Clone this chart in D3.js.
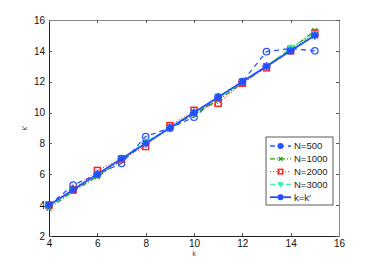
<!DOCTYPE html>
<html>
<head>
<meta charset="utf-8">
<script src="https://cdn.jsdelivr.net/npm/d3@7"></script>
<style>
  body { margin: 0; background: #fff; }
  svg { font-family: "Liberation Sans", Arial, sans-serif; }
  .axis path, .axis line { shape-rendering: crispEdges; }
</style>
</head>
<body>
<div id="chart"></div>
<script>
var kValues = [4, 5, 6, 7, 8, 9, 10, 11, 12, 13, 14, 15];
var n500 = [4.0, 5.3, 6.0, 6.7, 8.45, 9.0, 9.7, 11.0, 12.0, 13.95, 14.15, 14.0];
var n1000 = [3.8, 4.9, 5.85, 6.9, 8.0, 9.0, 9.9, 10.8, 11.9, 13.0, 14.1, 15.3];
var n2000 = [4.0, 5.0, 6.25, 7.0, 7.8, 9.15, 10.15, 10.6, 11.9, 12.9, 14.0, 15.15];
var n3000 = [3.9, 5.0, 6.0, 7.0, 8.1, 9.0, 10.0, 11.0, 12.0, 13.0, 14.2, 15.1];
var identity = [4, 5, 6, 7, 8, 9, 10, 11, 12, 13, 14, 15];
var xTicks = [4, 6, 8, 10, 12, 14, 16];
var yTicks = [2, 4, 6, 8, 10, 12, 14, 16];

var series = [
  { name: 'N=500', values: n500, color: '#2a55ff', dash: '5,4', marker: 'circle', width: 1.3 },
  { name: 'N=1000', values: n1000, color: '#2a9a10', dash: '5,2,1,2', marker: 'x', width: 1.3 },
  { name: 'N=2000', values: n2000, color: '#ff2020', dash: '1,2', marker: 'square', width: 1 },
  { name: 'N=3000', values: n3000, color: '#3ff0a8', dash: '5,3', marker: 'triangle', width: 1.3 },
  { name: "k=k'", values: identity, color: '#2050ff', dash: null, marker: 'star', width: 1.8 }
];

var margin = { top: 20, right: 35, bottom: 30, left: 49 },
  frame = { width: 374, height: 266 },
  width = 339 - margin.left,
  height = 236 - margin.top;

var x = d3.scaleLinear().domain([4, 16]).range([0, width]);
var y = d3.scaleLinear().domain([2, 16]).range([height, 0]);

var svg = d3.select('#chart').append('svg')
  .attr('width', frame.width)
  .attr('height', frame.height)
  .append('g')
  .attr('transform', 'translate(' + margin.left + ',' + margin.top + ')');

function styleAxis(g, color) {
  g.select('.domain').attr('stroke', color).attr('stroke-width', 1.2);
  g.selectAll('.tick line').attr('stroke', '#555');
  g.selectAll('.tick text').attr('fill', '#111').style('font-size', '10px');
}

// bottom / left axes with labels, inward ticks
svg.append('g')
  .attr('class', 'axis')
  .attr('transform', 'translate(0,' + height + ')')
  .call(d3.axisBottom(x).tickValues(xTicks).tickSize(-3).tickPadding(4).tickSizeOuter(0))
  .call(function (g) { styleAxis(g, '#222'); });

svg.append('g')
  .attr('class', 'axis')
  .call(d3.axisLeft(y).tickValues(yTicks).tickSize(-3).tickPadding(4).tickSizeOuter(0))
  .call(function (g) { styleAxis(g, '#222'); });

// top / right axes without labels
svg.append('g')
  .attr('class', 'axis')
  .call(d3.axisTop(x).tickValues(xTicks).tickSize(-3).tickFormat('').tickSizeOuter(0))
  .call(function (g) { styleAxis(g, '#888'); });

svg.append('g')
  .attr('class', 'axis')
  .attr('transform', 'translate(' + width + ',0)')
  .call(d3.axisRight(y).tickValues(yTicks).tickSize(-3).tickFormat('').tickSizeOuter(0))
  .call(function (g) { styleAxis(g, '#888'); });

// axis titles
svg.append('text')
  .attr('x', x(10))
  .attr('y', height + 20)
  .attr('text-anchor', 'middle')
  .style('font-size', '6.5px')
  .attr('fill', '#333')
  .text('k');

svg.append('text')
  .attr('transform', 'translate(-22,' + y(9) + ') rotate(-90)')
  .attr('text-anchor', 'middle')
  .style('font-size', '6.5px')
  .attr('fill', '#333')
  .text("k'");

function drawMarker(g, type, color, cx, cy, s) {
  s = s || 1;
  if (type === 'circle') {
    g.append('circle').attr('cx', cx).attr('cy', cy).attr('r', 3.2 * s)
      .attr('fill', s < 1 ? color : 'none').attr('stroke', color).attr('stroke-width', 1.3);
  } else if (type === 'x') {
    var a = 2.5 * s;
    g.append('path')
      .attr('d', 'M' + (cx - a) + ',' + (cy - a) + 'L' + (cx + a) + ',' + (cy + a) +
        'M' + (cx - a) + ',' + (cy + a) + 'L' + (cx + a) + ',' + (cy - a))
      .attr('stroke', color).attr('stroke-width', 1.3);
  } else if (type === 'square') {
    var h = 3 * s;
    g.append('rect').attr('x', cx - h).attr('y', cy - h).attr('width', 2 * h).attr('height', 2 * h)
      .attr('fill', 'none').attr('stroke', color).attr('stroke-width', 1.5);
  } else if (type === 'triangle') {
    var t = 3.5 * s;
    g.append('path')
      .attr('d', 'M' + (cx - t) + ',' + (cy - t * 0.7) + 'L' + (cx + t) + ',' + (cy - t * 0.7) +
        'L' + cx + ',' + (cy + t) + 'Z')
      .attr('fill', color).attr('stroke', color).attr('stroke-width', 0.8);
  } else if (type === 'star') {
    var r = 4 * s, q = 3 * s;
    g.append('path')
      .attr('d', 'M' + (cx - r) + ',' + cy + 'L' + (cx + r) + ',' + cy +
        'M' + cx + ',' + (cy - r) + 'L' + cx + ',' + (cy + r) +
        'M' + (cx - q) + ',' + (cy - q) + 'L' + (cx + q) + ',' + (cy + q) +
        'M' + (cx - q) + ',' + (cy + q) + 'L' + (cx + q) + ',' + (cy - q))
      .attr('stroke', color).attr('stroke-width', 1.8);
  }
}

var line = d3.line()
  .x(function (d) { return x(d.k); })
  .y(function (d) { return y(d.v); });

series.forEach(function (s) {
  var pts = kValues.map(function (k, i) { return { k: k, v: s.values[i] }; });
  var g = svg.append('g');
  g.append('path')
    .datum(pts)
    .attr('fill', 'none')
    .attr('stroke', s.color)
    .attr('stroke-width', s.width)
    .attr('stroke-dasharray', s.dash)
    .attr('d', line);
  pts.forEach(function (d) {
    drawMarker(g, s.marker, s.color, x(d.k), y(d.v));
  });
});

// legend
var legend = svg.append('g')
  .attr('transform', 'translate(' + (266 - margin.left) + ',' + (137 - margin.top) + ')');

legend.append('rect')
  .attr('width', 67)
  .attr('height', 68)
  .attr('fill', '#fff')
  .attr('stroke', '#333')
  .attr('stroke-width', 0.8);

series.forEach(function (s, i) {
  var ly = 9 + i * 12.8;
  var lg = legend.append('g');
  lg.append('line')
    .attr('x1', 4).attr('x2', 25)
    .attr('y1', ly).attr('y2', ly)
    .attr('stroke', s.color)
    .attr('stroke-width', s.width)
    .attr('stroke-dasharray', s.dash);
  drawMarker(lg, s.marker, s.color, 14.5, ly, 0.75);
  lg.append('text')
    .attr('x', 28)
    .attr('y', ly + 3.4)
    .style('font-size', '9.5px')
    .attr('fill', '#222')
    .text(s.name);
});
</script>
</body>
</html>
